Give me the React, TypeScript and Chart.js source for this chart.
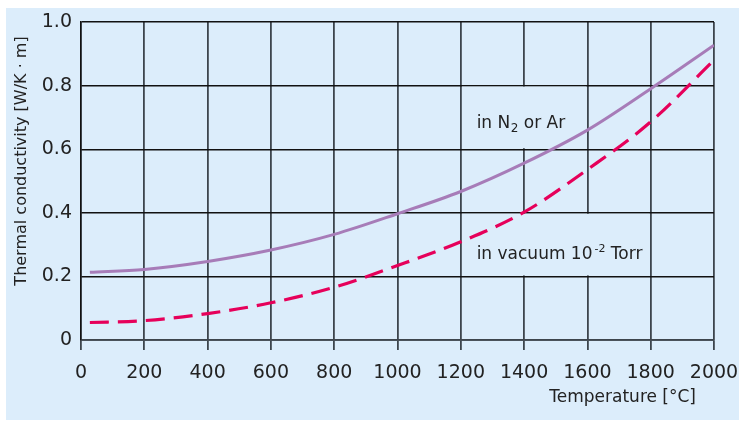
import { useEffect, useRef } from "react";
import { Chart, registerables } from "chart.js";

Chart.register(...registerables);

// ---- data ----
const temperatures = [28, 200, 400, 600, 800, 1000, 1200, 1400, 1600, 1800, 2000];
const conductivityN2Ar = [0.213, 0.222, 0.247, 0.283, 0.332, 0.397, 0.467, 0.556, 0.66, 0.79, 0.927];
const conductivityVacuum = [0.055, 0.061, 0.083, 0.117, 0.166, 0.234, 0.309, 0.402, 0.536, 0.686, 0.88];
const xTickValues = [0, 200, 400, 600, 800, 1000, 1200, 1400, 1600, 1800, 2000];
const yTickValues = [0, 0.2, 0.4, 0.6, 0.8, 1.0];
const yTickLabels = ["0", "0.2", "0.4", "0.6", "0.8", "1.0"];

// ---- annotations (label cells in data units) ----
const n2Box = [1200, 1600, 0.6, 0.8];
const vacuumBox = [1200, 1800, 0.2, 0.4];
const n2LabelAt = [1250, 0.68];
const vacuumLabelAt = [1250, 0.27];

const BG = "#dcedfb";
const TEXT = "#222222";
const FONT = "'DejaVu Sans', sans-serif";

const overlayPlugin = {
  id: "overlay",
  beforeDatasetsDraw(chart: any) {
    const { ctx, scales } = chart;
    const x = scales.x;
    const y = scales.y;
    ctx.save();
    ctx.fillStyle = BG;
    for (const b of [n2Box, vacuumBox]) {
      const x0 = x.getPixelForValue(b[0]) + 1.2;
      const x1 = x.getPixelForValue(b[1]) - 1.2;
      const y0 = y.getPixelForValue(b[3]) + 1;
      const y1 = y.getPixelForValue(b[2]) - 1;
      ctx.fillRect(x0, y0, x1 - x0, y1 - y0);
    }
    ctx.fillStyle = TEXT;
    ctx.textBaseline = "middle";
    ctx.textAlign = "left";
    // in N2 or Ar
    let px = x.getPixelForValue(n2LabelAt[0]);
    let py = y.getPixelForValue(n2LabelAt[1]);
    ctx.font = `17px ${FONT}`;
    ctx.fillText("in N", px, py);
    px += ctx.measureText("in N").width;
    ctx.font = `12px ${FONT}`;
    ctx.fillText("2", px + 0.5, py + 5);
    px += ctx.measureText("2").width + 0.5;
    ctx.font = `17px ${FONT}`;
    ctx.fillText(" or Ar", px, py);
    // in vacuum 10-2 Torr
    px = x.getPixelForValue(vacuumLabelAt[0]);
    py = y.getPixelForValue(vacuumLabelAt[1]);
    ctx.font = `17px ${FONT}`;
    ctx.fillText("in vacuum 10", px, py);
    px += ctx.measureText("in vacuum 10").width + 2;
    ctx.font = `11px ${FONT}`;
    ctx.fillText("-2", px, py - 5);
    px += ctx.measureText("-2").width;
    ctx.font = `17px ${FONT}`;
    ctx.fillText(" Torr", px, py);
    ctx.restore();
  },
  afterDraw(chart: any) {
    const { ctx } = chart;
    ctx.save();
    ctx.fillStyle = TEXT;
    ctx.textBaseline = "middle";
    // x title
    ctx.font = `17px ${FONT}`;
    ctx.textAlign = "right";
    ctx.fillText("Temperature [°C]", 690, 390);
    // y title
    ctx.translate(16, 153);
    ctx.rotate(-Math.PI / 2);
    ctx.textAlign = "center";
    ctx.font = `16px ${FONT}`;
    ctx.fillText("Thermal conductivity [W/K · m]", 0, 0);
    ctx.restore();
  },
};

export default function App() {
  const canvasRef = useRef<HTMLCanvasElement | null>(null);

  useEffect(() => {
    if (!canvasRef.current) return;
    const chart = new Chart(canvasRef.current, {
      type: "line",
      data: {
        datasets: [
          {
            label: "in N2 or Ar",
            data: temperatures.map((t, i) => ({ x: t, y: conductivityN2Ar[i] })),
            borderColor: "#a77cb8",
            borderWidth: 3,
            pointRadius: 0,
            cubicInterpolationMode: "monotone",
            fill: false,
          },
          {
            label: "in vacuum 10-2 Torr",
            data: temperatures.map((t, i) => ({ x: t, y: conductivityVacuum[i] })),
            borderColor: "#e6005a",
            borderWidth: 3.2,
            borderDash: [19, 9],
            pointRadius: 0,
            cubicInterpolationMode: "monotone",
            fill: false,
          },
        ],
      },
      options: {
        animation: false,
        responsive: false,
        devicePixelRatio: 1,
        layout: { padding: { left: 0, right: 25, top: 14, bottom: 0 } },
        plugins: {
          legend: { display: false },
          tooltip: { enabled: false },
        },
        scales: {
          x: {
            type: "linear",
            min: 0,
            max: 2000,
            afterBuildTicks: (s: any) => {
              s.ticks = xTickValues.map((v) => ({ value: v }));
            },
            afterFit: (s: any) => {
              s.height = 80;
              s.paddingLeft = 0;
              s.paddingRight = 0;
            },
            ticks: {
              autoSkip: false,
              maxRotation: 0,
              padding: 12,
              color: TEXT,
              font: { family: FONT, size: 19 },
              callback: (v: any) => String(v),
            },
            grid: {
              color: "#3d454d",
              lineWidth: 1.8,
              tickLength: 10,
              drawTicks: true,
            },
            border: { display: true, color: "#3d454d", width: 1.8 },
          },
          y: {
            type: "linear",
            min: 0,
            max: 1,
            afterBuildTicks: (s: any) => {
              s.ticks = yTickValues.map((v) => ({ value: v }));
            },
            afterFit: (s: any) => {
              s.width = 75;
              s.paddingTop = 0;
              s.paddingBottom = 0;
            },
            ticks: {
              padding: 9,
              color: TEXT,
              font: { family: FONT, size: 19 },
              callback: (v: any) => {
                const i = yTickValues.findIndex((t) => Math.abs(t - v) < 1e-9);
                return i >= 0 ? yTickLabels[i] : "";
              },
            },
            grid: {
              color: "#111111",
              lineWidth: 1.4,
              drawTicks: false,
            },
            border: { display: true, color: "#111111", width: 1.4 },
          },
        },
      },
      plugins: [overlayPlugin],
    } as any);
    return () => chart.destroy();
  }, []);

  return (
    <div style={{ position: "absolute", left: 0, top: 0, width: 739, height: 421, background: "#ffffff" }}>
      <div style={{ position: "absolute", left: 6, top: 8, width: 733, height: 412, background: BG }}>
        <canvas ref={canvasRef} width={733} height={412} style={{ display: "block", width: 733, height: 412 }} />
      </div>
    </div>
  );
}
